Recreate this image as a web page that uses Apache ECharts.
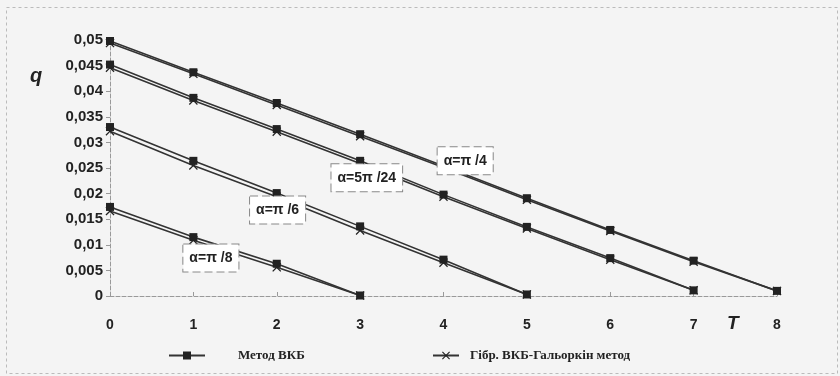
<!DOCTYPE html>
<html><head><meta charset="utf-8">
<script src="https://cdn.jsdelivr.net/npm/echarts@6/dist/echarts.min.js"></script>
<style>html,body{margin:0;padding:0;background:#f4f4f4}#c{width:840px;height:376px}</style>
</head><body><div id="c"></div>
<script>
// ---- data ----
var T = [0, 1, 2, 3, 4, 5, 6, 7, 8];
var yTicks = [0, 0.005, 0.01, 0.015, 0.02, 0.025, 0.03, 0.035, 0.04, 0.045, 0.05];
var vkb_pi4   = [0.0498, 0.0437, 0.0377, 0.0316, 0.0254, 0.0191, 0.0129, 0.0069, 0.0010];
var gal_pi4   = [0.0494, 0.0434, 0.0373, 0.0312, 0.0251, 0.0188, 0.0127, 0.0067, 0.0010];
var vkb_5pi24 = [0.0452, 0.0387, 0.0326, 0.0264, 0.0198, 0.0135, 0.0074, 0.0011];
var gal_5pi24 = [0.0446, 0.0382, 0.0321, 0.0259, 0.0194, 0.0132, 0.0071, 0.0011];
var vkb_pi6   = [0.0330, 0.0264, 0.0201, 0.0136, 0.0071, 0.0003];
var gal_pi6   = [0.0322, 0.0255, 0.0194, 0.0128, 0.0065, 0.0003];
var vkb_pi8   = [0.0174, 0.0115, 0.0063, 0.0001];
var gal_pi8   = [0.0166, 0.0109, 0.0056, 0.0001];
var annText = ['α=π /4', 'α=5π /24', 'α=π /6', 'α=π /8'];
var annX    = [4.26, 3.08, 2.01, 1.21];
var annY    = [0.0264, 0.0231, 0.0168, 0.0074];
var nameVKB = 'Метод ВКБ';
var nameGal = 'Гібр. ВКБ-Гальоркін метод';

// ---- build ----
function pts(arr){ return arr.map(function(v,i){ return [T[i], v]; }); }
var crossPath = 'path://M0,1L1,0L5,4L9,0L10,1L6,5L10,9L9,10L5,6L1,10L0,9L4,5Z';
var lineColor = '#333';
function galSeries(arr){
  return {type:'line', name:nameGal, data:pts(arr), symbol:crossPath, symbolSize:9,
    lineStyle:{color:lineColor, width:1.6}, itemStyle:{color:'#222'}, z:2, animation:false};
}
function vkbSeries(arr){
  return {type:'line', name:nameVKB, data:pts(arr), symbol:'rect', symbolSize:8,
    lineStyle:{color:lineColor, width:1.6}, itemStyle:{color:'#222'}, z:3, animation:false};
}
var series = [
  galSeries(gal_pi4), galSeries(gal_5pi24), galSeries(gal_pi6), galSeries(gal_pi8),
  vkbSeries(vkb_pi4), vkbSeries(vkb_5pi24), vkbSeries(vkb_pi6), vkbSeries(vkb_pi8),
  {type:'scatter', name:'labels', symbolSize:0, z:10, animation:false,
   itemStyle:{color:'#fff', opacity:1},
   data: annText.map(function(t,i){ return {name:t, value:[annX[i], annY[i]]}; }),
   label:{show:true, position:'inside', formatter:'{b}', fontFamily:'Arial', fontWeight:'bold',
     fontSize:14, color:'#222', backgroundColor:'#ffffff', borderColor:'#888', borderWidth:1,
     borderType:'dashed', padding:[7,6,6,6]}}
];

var chart = echarts.init(document.getElementById('c'));
chart.setOption({
  backgroundColor:'#f4f4f4',
  animation:false,
  grid:{left:110, right:63, top:40, bottom:80, containLabel:false},
  xAxis:{type:'value', min:0, max:8, interval:1,
    axisLine:{lineStyle:{color:'#999', type:'dashed'}},
    axisTick:{show:true, inside:true, length:4, lineStyle:{color:'#999'}},
    splitLine:{show:false},
    axisLabel:{fontFamily:'Arial', fontWeight:'bold', fontSize:14, color:'#222', margin:22}},
  yAxis:{type:'value', min:0, max:0.05, interval:0.005,
    axisLine:{show:true, lineStyle:{color:'#999', type:'dashed'}},
    axisTick:{show:true, length:4, lineStyle:{color:'#999'}},
    splitLine:{show:false},
    axisLabel:{fontFamily:'Arial', fontWeight:'bold', fontSize:15, color:'#222', margin:7,
      formatter:function(v){ return v===0 ? '0' : String(+v.toFixed(3)).replace('.', ','); }}},
  legend:[
    {data:[nameVKB], left:163, top:344, itemWidth:36, itemHeight:10, itemGap:0,
     textStyle:{fontFamily:'Liberation Serif', fontWeight:'bold', fontSize:13, color:'#222', padding:[0,0,0,28]}},
    {data:[nameGal], left:427, top:344, itemWidth:26, itemHeight:10, itemGap:0,
     textStyle:{fontFamily:'Liberation Serif', fontWeight:'bold', fontSize:13, color:'#222', padding:[0,0,0,6]}}
  ],
  graphic:[
    {type:'rect', left:4, top:5, shape:{width:831, height:366}, silent:true,
     style:{fill:null, stroke:'#bbb', lineWidth:1, lineDash:[3,3]}},
    {type:'text', left:30, top:66, style:{text:'q', font:'italic bold 20px Arial', fill:'#222'}},
    {type:'text', left:727, top:314, style:{text:'T', font:'italic bold 19px Arial', fill:'#222'}}
  ],
  series:series
});
</script>
</body></html>
